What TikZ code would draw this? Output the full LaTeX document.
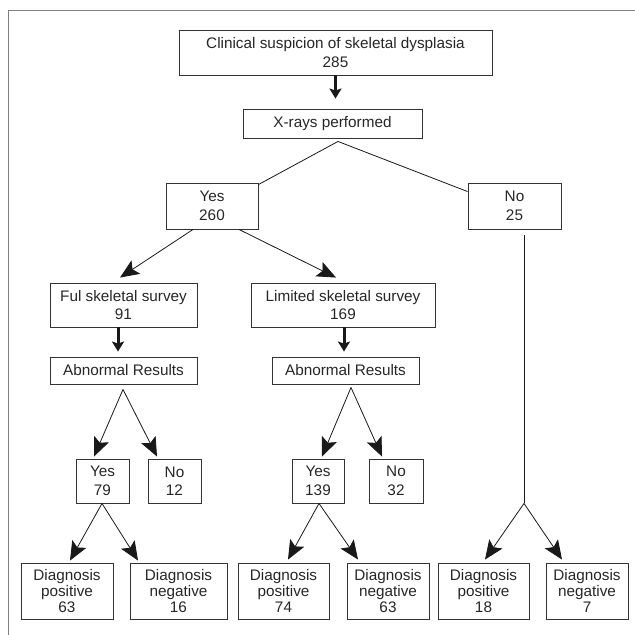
\documentclass[tikz,border=0pt]{standalone}
\usepackage{fontspec}
\setmainfont{Liberation Sans}
\usetikzlibrary{arrows.meta,calc}
\begin{document}
\begin{tikzpicture}[x=1pt,y=-1pt,
 wh/.style 2 args={minimum width=#1pt, minimum height=#2pt},
 box/.style={draw=black!80, line width=0.9pt, inner sep=0pt, align=center, font=\fontsize{15.3}{18.5}\selectfont, text=black!85},
 dbox/.style={box, font=\fontsize{15.3}{16}\selectfont},
 conn/.style={line width=0.8pt, draw=black!90},
 arr/.style={conn, -{Stealth[length=19pt,width=16pt,inset=4pt]}},
 thickarr/.style={line width=3pt, draw=black!90, -{Stealth[length=10pt,width=12pt,inset=2pt]}},
 frame/.style={draw=black!50, line width=1.5pt}]
\useasboundingbox (0,0) rectangle (635,635);
\draw[frame] (8.7,635) -- (8.7,10.5) -- (635,10.5);

\node[box, wh={313}{45}] (top) at (335.5,52.5) {Clinical suspicion of skeletal dysplasia\\285};
\node[box, wh={179}{29}] (xray) at (332.5,123.5) {X-rays performed};
\node[box, wh={92}{46}] (yes1) at (212,206) {Yes\\260};
\node[box, wh={93}{46}] (no1) at (514.5,206) {No\\25};
\node[box, wh={147}{44}] (ful) at (123.5,305) {Ful skeletal survey\\91};
\node[box, wh={184}{44}] (lim) at (343,305) {Limited skeletal survey\\169};
\node[box, wh={147}{27}] (abn1) at (123.5,370.5) {Abnormal Results};
\node[box, wh={147}{27}] (abn2) at (345.5,370.5) {Abnormal Results};
\node[box, wh={53}{44}] (y79) at (102.5,481) {Yes\\79};
\node[box, wh={53}{44}] (n12) at (174.5,481) {No\\12};
\node[box, wh={52}{44}] (y139) at (318,481) {Yes\\139};
\node[box, wh={54}{44}] (n32) at (396,481) {No\\32};
\node[dbox, wh={92}{56}] (d1) at (67,591) {Diagnosis\\positive\\63};
\node[dbox, wh={97}{56}] (d2) at (178.5,591) {Diagnosis\\negative\\16};
\node[dbox, wh={91}{56}] (d3) at (283.5,591) {Diagnosis\\positive\\74};
\node[dbox, wh={82}{56}] (d4) at (388,591) {Diagnosis\\negative\\63};
\node[dbox, wh={91}{56}] (d5) at (483.5,591) {Diagnosis\\positive\\18};
\node[dbox, wh={82}{56}] (d6) at (587,591) {Diagnosis\\negative\\7};

% top -> xray
\draw[thickarr] (top.south) -- ($(top.south |- xray.north)+(0,-10)$);
% xray split
\coordinate (xa) at ($(xray.south)+(5.5,3)$);
\draw[conn] ($(yes1.north east)+(0,2)$) -- (xa) -- ($(no1.north west)+(0,9)$);
% yes -> surveys
\draw[arr] ($(yes1.south)+(-19,0)$) -- ($(ful.north)+(-3.5,-5)$);
\draw[arr] ($(yes1.south)+(27,0)$) -- ($(lim.north)+(-7,-5)$);
% surveys -> abnormal
\draw[thickarr] ($(ful.south)+(-5.5,0)$) -- ($(abn1.north)+(-5.5,-5)$);
\draw[thickarr] ($(lim.south)+(1,0)$) -- ($(abn2.north)+(-1.5,-5)$);
% abnormal branches
\coordinate (a1) at ($(abn1.south)+(-0.5,5)$);
\draw[arr] (a1) -- ($(y79.north)+(-8.5,-2)$);
\draw[arr] (a1) -- ($(n12.north)+(-17.5,-2)$);
\coordinate (a2) at ($(abn2.south)+(5.5,3)$);
\draw[arr] (a2) -- ($(y139.north)+(4,-2)$);
\draw[arr] (a2) -- ($(n32.north)+(-14,-2)$);
% yes -> diagnoses
\draw[arr] ($(y79.south)+(-0.5,0)$) -- ($(d1.north)+(3,-2)$);
\draw[arr] ($(y79.south)+(-0.5,0)$) -- ($(d2.north)+(-40.5,-2)$);
\draw[arr] ($(y139.south)+(1,0)$) -- ($(d3.north)+(4.5,-3)$);
\draw[arr] ($(y139.south)+(1,0)$) -- ($(d4.north)+(-30,-3)$);
% no branch
\coordinate (nb) at ($(no1.south)+(9.5,274)$);
\draw[conn] ($(no1.south)+(9.5,6)$) -- (nb);
\draw[arr] (nb) -- ($(d5.north)+(1.5,-3)$);
\draw[arr] (nb) -- ($(d6.north)+(-25,-3)$);
\end{tikzpicture}
\end{document}
